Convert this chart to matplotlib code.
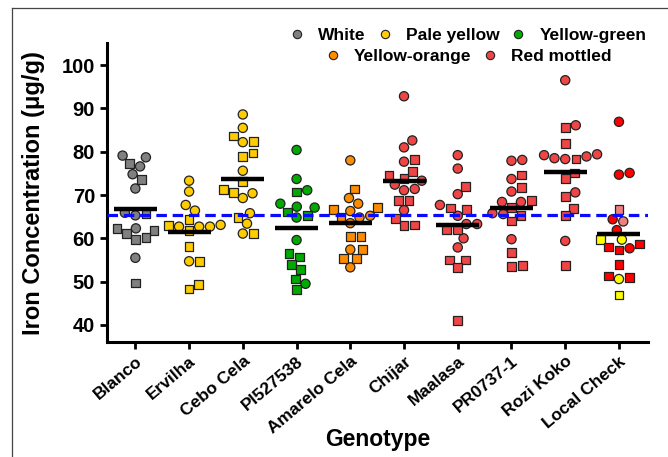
import numpy as np
import matplotlib.pyplot as plt
from matplotlib.lines import Line2D

plt.rcParams['font.family'] = ['Liberation Sans', 'DejaVu Sans']
plt.rcParams['font.weight'] = 'bold'
plt.rcParams['axes.labelweight'] = 'bold'

genotypes = ['Blanco', 'Ervilha', 'Cebo Cela', 'PI527538', 'Amarelo Cela',
             'Chijar', 'Maalasa', 'PR0737-1', 'Rozi Koko', 'Local Check']

# circles and squares = the two sets of samples per genotype
blanco_c = [79.1, 78.7, 76.6, 74.8, 71.5, 65.9, 65.3, 62.3, 55.5]
blanco_s = [77.2, 73.5, 65.6, 62.3, 61.8, 61.1, 60.1, 59.7, 49.7]
ervilha_c = [73.3, 70.8, 67.7, 66.4, 63.1, 62.7, 62.7, 62.7, 54.7]
ervilha_s = [64.3, 62.9, 61.8, 58.1, 54.7, 49.4, 48.3]
cebo_c = [88.6, 85.5, 82.2, 75.6, 70.4, 69.3, 65.8, 63.4, 61.1]
cebo_s = [83.6, 82.4, 79.7, 78.9, 73.1, 71.2, 70.6, 64.8, 61.1]
pi_c = [80.4, 73.7, 71.1, 68.0, 67.3, 67.1, 64.8, 59.6, 49.5]
pi_s = [70.7, 66.1, 65.3, 56.5, 55.7, 54.0, 52.8, 50.6, 48.1]
amarelo_c = [78.0, 69.3, 68.0, 66.3, 65.2, 64.8, 63.5, 57.4, 53.3]
amarelo_s = [71.4, 67.1, 66.6, 64.8, 60.5, 60.5, 57.4, 55.3, 55.3]
chijar_c = [92.8, 82.6, 81.0, 77.7, 73.3, 72.4, 71.4, 71.1, 66.5]
chijar_s = [78.2, 75.4, 74.5, 73.9, 68.8, 68.7, 64.6, 63.1, 63.0]
maalasa_c = [79.2, 76.1, 70.2, 67.7, 65.2, 63.3, 63.3, 60.0, 57.9]
maalasa_s = [72.0, 67.0, 66.7, 62.0, 62.0, 55.0, 55.0, 53.3, 41.1]
pr_c = [78.1, 77.9, 73.7, 70.8, 68.4, 68.4, 65.8, 65.6, 59.8]
pr_s = [74.6, 71.8, 68.7, 67.2, 65.2, 64.0, 56.7, 53.8, 53.5]
rozi_c = [96.5, 86.1, 79.4, 79.2, 78.9, 78.5, 78.3, 70.6, 59.4]
rozi_s = [85.6, 81.9, 78.3, 75.1, 73.8, 69.7, 66.9, 65.2, 53.8]
local_c = [86.9, 75.1, 74.7, 64.4, 63.9, 61.9, 59.7, 57.7, 50.6]
local_s = [66.6, 59.7, 58.7, 58.0, 57.3, 54.0, 51.3, 50.9, 46.9]

seed_colors = {'White': '#808080', 'Pale yellow': '#FFCC00', 'Yellow-green': '#00AA00',
               'Yellow-orange': '#FF8C00', 'Red mottled': '#F04545'}
geno_class = ['White', 'Pale yellow', 'Pale yellow', 'Yellow-green', 'Yellow-orange',
              'Red mottled', 'Red mottled', 'Red mottled', 'Red mottled', None]
local_c_col = ['#FF0000', '#FF0000', '#FF0000', '#FF0000', '#F08080', '#FF0000',
               '#FFFF00', '#FF0000', '#FFFF00']
local_s_col = ['#F08080', '#FFFF00', '#FF0000', '#FF0000', '#FF0000', '#FF0000',
               '#FF0000', '#FF0000', '#FFFF00']
ref_line = 65.4

circ = [blanco_c, ervilha_c, cebo_c, pi_c, amarelo_c, chijar_c, maalasa_c, pr_c, rozi_c, local_c]
sq = [blanco_s, ervilha_s, cebo_s, pi_s, amarelo_s, chijar_s, maalasa_s, pr_s, rozi_s, local_s]

fig = plt.figure(figsize=(6.68, 4.57), dpi=100)
ax = fig.add_axes([0.160, 0.252, 0.810, 0.653])
ax.set_xlim(-0.53, 9.54)
ax.set_ylim(36.1, 105)

# pixel scale of the axes, used to lay out the swarm
xpx = 541 / 10.07
ypx = 298.4 / 68.9
d = 10.8


def swarm(vals):
    offs = np.zeros(len(vals))
    placed = []
    for i in np.argsort(vals, kind='stable'):
        y = vals[i] * ypx
        cands = [0.0]
        for px, py in placed:
            dy = y - py
            if abs(dy) < d:
                dx = np.sqrt(d * d - dy * dy)
                cands += [px + dx, px - dx]
        cands.sort(key=abs)
        for c in cands:
            if all((c - px) ** 2 + (y - py) ** 2 >= d * d - 1e-6 for px, py in placed):
                offs[i] = c
                break
        placed.append((offs[i], y))
    return offs / xpx


for i in range(len(genotypes)):
    vals = np.array(circ[i] + sq[i])
    marks = np.array(['o'] * len(circ[i]) + ['s'] * len(sq[i]))
    if geno_class[i] is None:
        cols = np.array(local_c_col + local_s_col)
    else:
        cols = np.array([seed_colors[geno_class[i]]] * len(vals))
    xs = i + swarm(vals)
    for m, s in (('o', 44), ('s', 40)):
        k = marks == m
        ax.scatter(xs[k], vals[k], marker=m, s=s, c=cols[k], edgecolors='#222222',
                   linewidths=0.9, zorder=2)
    ax.hlines(vals.mean(), i - 0.4, i + 0.4, color='black', lw=3.2, zorder=4)

ax.axhline(ref_line, color='#0a0aff', lw=2.3, ls=(0, (3.3, 1.8)), zorder=3)

ax.spines['top'].set_visible(False)
ax.spines['right'].set_visible(False)
for sp in ('left', 'bottom'):
    ax.spines[sp].set_linewidth(2.2)
ax.tick_params(width=2, length=5, labelsize=14.5)
ax.set_yticks(range(40, 101, 10))
ax.set_xticks(range(len(genotypes)))
ax.set_xticklabels(genotypes, rotation=40, ha='right', rotation_mode='anchor',
                   fontsize=12.5, fontweight='bold')
ax.set_ylabel('Iron Concentration (\u03bcg/g)', fontsize=17, fontweight='bold')
ax.set_xlabel('Genotype', fontsize=16.5, fontweight='bold')
ax.yaxis.set_label_coords(-0.115, 0.5)
ax.xaxis.set_label_coords(0.5, -0.29)

names = list(seed_colors)
handles = [Line2D([], [], marker='o', ls='', mfc=seed_colors[n], mec='#222222',
                  ms=6, mew=0.8) for n in names]
leg1 = ax.legend(handles[:3], names[:3], ncol=3, loc='center', bbox_to_anchor=(0.665, 1.028),
                 frameon=False, prop={'weight': 'bold', 'size': 12.5}, handletextpad=0.6,
                 columnspacing=0.5, handlelength=1.2)
ax.add_artist(leg1)
ax.legend(handles[3:], names[3:], ncol=2, loc='center', bbox_to_anchor=(0.665, 0.957),
          frameon=False, prop={'weight': 'bold', 'size': 12.5}, handletextpad=0.6,
          columnspacing=0.5, handlelength=1.2)

# thin frame visible at the top and left of the picture
fig.add_artist(Line2D([12 / 668, 12 / 668], [0, 1 - 8 / 457], color='#444444', lw=0.9))
fig.add_artist(Line2D([12 / 668, 1], [1 - 8 / 457, 1 - 8 / 457], color='#444444', lw=0.9))

fig.savefig('out.png', dpi=100)
